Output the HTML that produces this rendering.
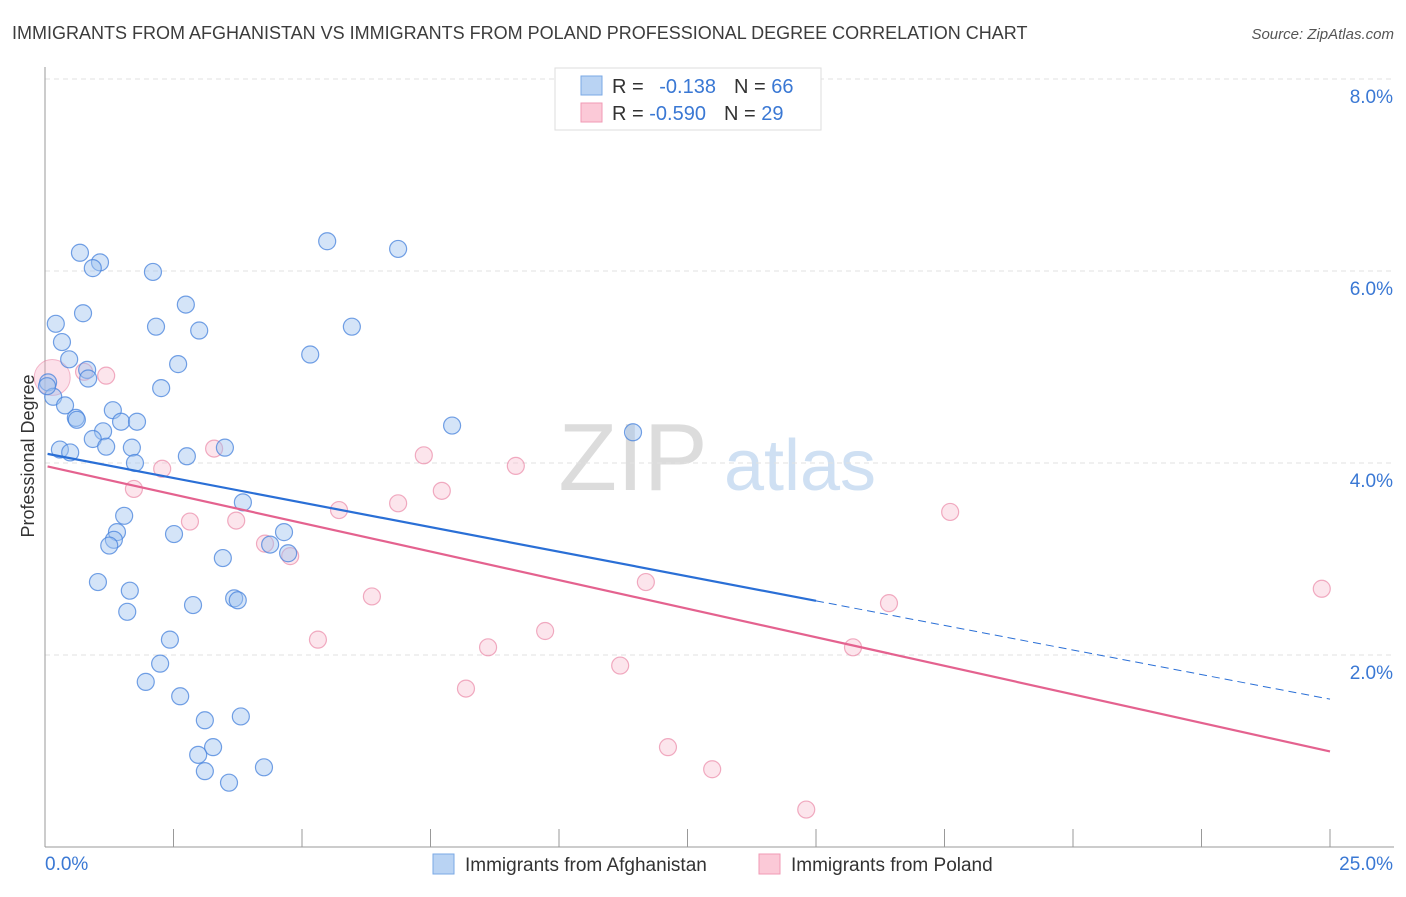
<!DOCTYPE html>
<html><head><meta charset="utf-8"><style>
body{margin:0;background:#fff;font-family:"Liberation Sans",sans-serif}
svg text{font-family:"Liberation Sans",sans-serif}
</style></head><body>
<svg id="chart" width="1406" height="892" xmlns="http://www.w3.org/2000/svg">
<text x="12" y="39" font-size="18" fill="#3c3c3c">IMMIGRANTS FROM AFGHANISTAN VS IMMIGRANTS FROM POLAND PROFESSIONAL DEGREE CORRELATION CHART</text>
<text x="1394" y="39" font-size="15" fill="#555" text-anchor="end" font-style="italic">Source: ZipAtlas.com</text>
<g><text x="633" y="490" font-size="96" fill="#dcdcdc" font-family="Liberation Serif" text-anchor="middle">ZIP</text><text x="800" y="490" font-size="72" fill="#cfe0f3" text-anchor="middle">atlas</text></g>
<g id="grid"></g><g id="axes"></g><g id="marks"></g>
<text transform="translate(34,456) rotate(-90)" font-size="18" fill="#333" text-anchor="middle">Professional Degree</text>
<g>
<rect x="555" y="68" width="266" height="62" fill="#fff" stroke="#ddd"/>
<rect x="581" y="76" width="21" height="19" fill="#b9d3f3" stroke="#7aa8e6"/>
<rect x="581" y="103" width="21" height="19" fill="#fbc9d7" stroke="#f09ab4"/>
<text x="612" y="93" font-size="20" fill="#333">R = <tspan fill="#3a78d4" dx="10">-0.138</tspan><tspan fill="#333" dx="18">N = </tspan><tspan fill="#3a78d4">66</tspan></text>
<text x="612" y="120" font-size="20" fill="#333">R = <tspan fill="#3a78d4">-0.590</tspan><tspan fill="#333" dx="18">N = </tspan><tspan fill="#3a78d4">29</tspan></text>
</g>
<g>
<rect x="433" y="854" width="21" height="20" fill="#b9d3f3" stroke="#7aa8e6"/>
<text x="465" y="871" font-size="19" fill="#333">Immigrants from Afghanistan</text>
<rect x="759" y="854" width="21" height="20" fill="#fbc9d7" stroke="#f09ab4"/>
<text x="791" y="871" font-size="19" fill="#333">Immigrants from Poland</text>
</g>
</svg>
<script>
const yTicks=[2,4,6,8];
const yTickLabels=["2.0%","4.0%","6.0%","8.0%"];
const xEndLabels=["0.0%","25.0%"];
const blueX=[0.68,1.07,0.93,2.10,5.49,6.87,0.21,0.74,2.16,2.74,3.00,5.97,0.33,0.47,5.16,2.59,0.82,0.84,0.06,0.16,0.39,2.26,1.32,1.48,1.79,0.60,7.92,11.44,1.13,0.93,1.19,1.69,0.29,0.49,2.76,3.50,1.75,3.85,1.54,1.40,2.51,1.34,1.25,4.38,4.65,4.73,3.46,1.03,1.65,3.68,3.75,2.88,1.60,2.43,2.24,1.96,2.63,3.81,3.11,3.27,2.98,3.11,3.58,4.26,0.04,0.62];
const blueY=[6.19,6.09,6.03,5.99,6.31,6.23,5.45,5.56,5.42,5.65,5.38,5.42,5.26,5.08,5.13,5.03,4.97,4.88,4.84,4.69,4.60,4.78,4.55,4.43,4.43,4.47,4.39,4.32,4.33,4.25,4.17,4.16,4.14,4.11,4.07,4.16,4.00,3.59,3.45,3.28,3.26,3.20,3.14,3.15,3.28,3.06,3.01,2.76,2.67,2.59,2.57,2.52,2.45,2.16,1.91,1.72,1.57,1.36,1.32,1.04,0.96,0.79,0.67,0.83,4.80,4.45];
const pinkX=[0.14,1.19,0.76,2.28,3.29,1.73,2.82,3.72,4.28,4.77,5.72,6.87,7.37,7.72,9.16,6.36,5.31,8.62,9.73,8.19,11.19,11.69,12.12,12.98,14.81,15.72,16.42,17.61,24.84];
const pinkY=[4.89,4.91,4.95,3.94,4.15,3.73,3.39,3.40,3.16,3.03,3.51,3.58,4.08,3.71,3.97,2.61,2.16,2.08,2.25,1.65,1.89,2.76,1.04,0.81,0.39,2.08,2.54,3.49,2.69];
const blueTrend=[4.10,-0.1024];
const pinkTrend=[3.97,-0.119];
const X0=45,X1=1330,Y0=847,YS=96;
const sx=v=>X0+(X1-X0)*v/25, sy=v=>Y0-v*YS;
const NS="http://www.w3.org/2000/svg";
function mk(t,a,p){const e=document.createElementNS(NS,t);for(const k in a)e.setAttribute(k,a[k]);p.appendChild(e);return e;}
const grid=document.getElementById('grid'),axes=document.getElementById('axes'),marks=document.getElementById('marks');
yTicks.forEach((t,i)=>{
 const l=mk('line',{x1:X0,x2:1394,y1:sy(t),y2:sy(t),stroke:'#e2e2e2','stroke-dasharray':'5,4'},grid);
 
 
 const tx=mk('text',{x:1393,y:sy(t)+24,'font-size':19,fill:'#3a78d4','text-anchor':'end'},axes);
 tx.textContent=yTickLabels[i];
 
 
});
const ya=mk('line',{x1:X0,x2:X0,y1:67,y2:Y0,stroke:'#999'},axes);


const xa=mk('line',{x1:X0,x2:1394,y1:Y0,y2:Y0,stroke:'#999'},axes);


for(let i=0;i<=10;i++){const v=i*2.5;const t=mk('line',{x1:sx(v),x2:sx(v),y1:Y0-18,y2:Y0,stroke:'#999'},axes);
 
 }
[0,25].forEach((v,i)=>{const t=mk('text',{x:i?1393:45,y:870,'font-size':19,fill:'#3a78d4','text-anchor':i?'end':'start'},axes);t.textContent=xEndLabels[i];
 
 });
function pts(xs,ys,fill,stroke,name){xs.forEach((x,i)=>{const c=mk('circle',{cx:sx(x),cy:sy(ys[i]),r:8.5,fill:fill,stroke:stroke,'stroke-width':1.2},marks);
 
 });}
const big=mk('circle',{cx:sx(pinkX[0]),cy:sy(pinkY[0]),r:18,fill:'rgba(246,170,195,0.35)',stroke:'rgba(232,120,155,0.5)'},marks);


pts(pinkX.slice(1),pinkY.slice(1),'rgba(248,190,208,0.4)','rgba(232,120,155,0.6)','poland-point');
pts(blueX,blueY,'rgba(160,196,240,0.45)','rgba(70,130,220,0.75)','afghanistan-point');
const bl=mk('line',{x1:sx(0.05),y1:sy(blueTrend[0]+blueTrend[1]*0.05),x2:sx(15),y2:sy(blueTrend[0]+blueTrend[1]*15),stroke:'#2a6fd6','stroke-width':2.2},marks);


const bd=mk('line',{x1:sx(15),y1:sy(blueTrend[0]+blueTrend[1]*15),x2:sx(25),y2:sy(blueTrend[0]+blueTrend[1]*25),stroke:'#2a6fd6','stroke-width':1,'stroke-dasharray':'8,5'},marks);


const pl=mk('line',{x1:sx(0.05),y1:sy(pinkTrend[0]+pinkTrend[1]*0.05),x2:sx(25),y2:sy(pinkTrend[0]+pinkTrend[1]*25),stroke:'#e4628f','stroke-width':2.2},marks);


</script>
</body></html>
